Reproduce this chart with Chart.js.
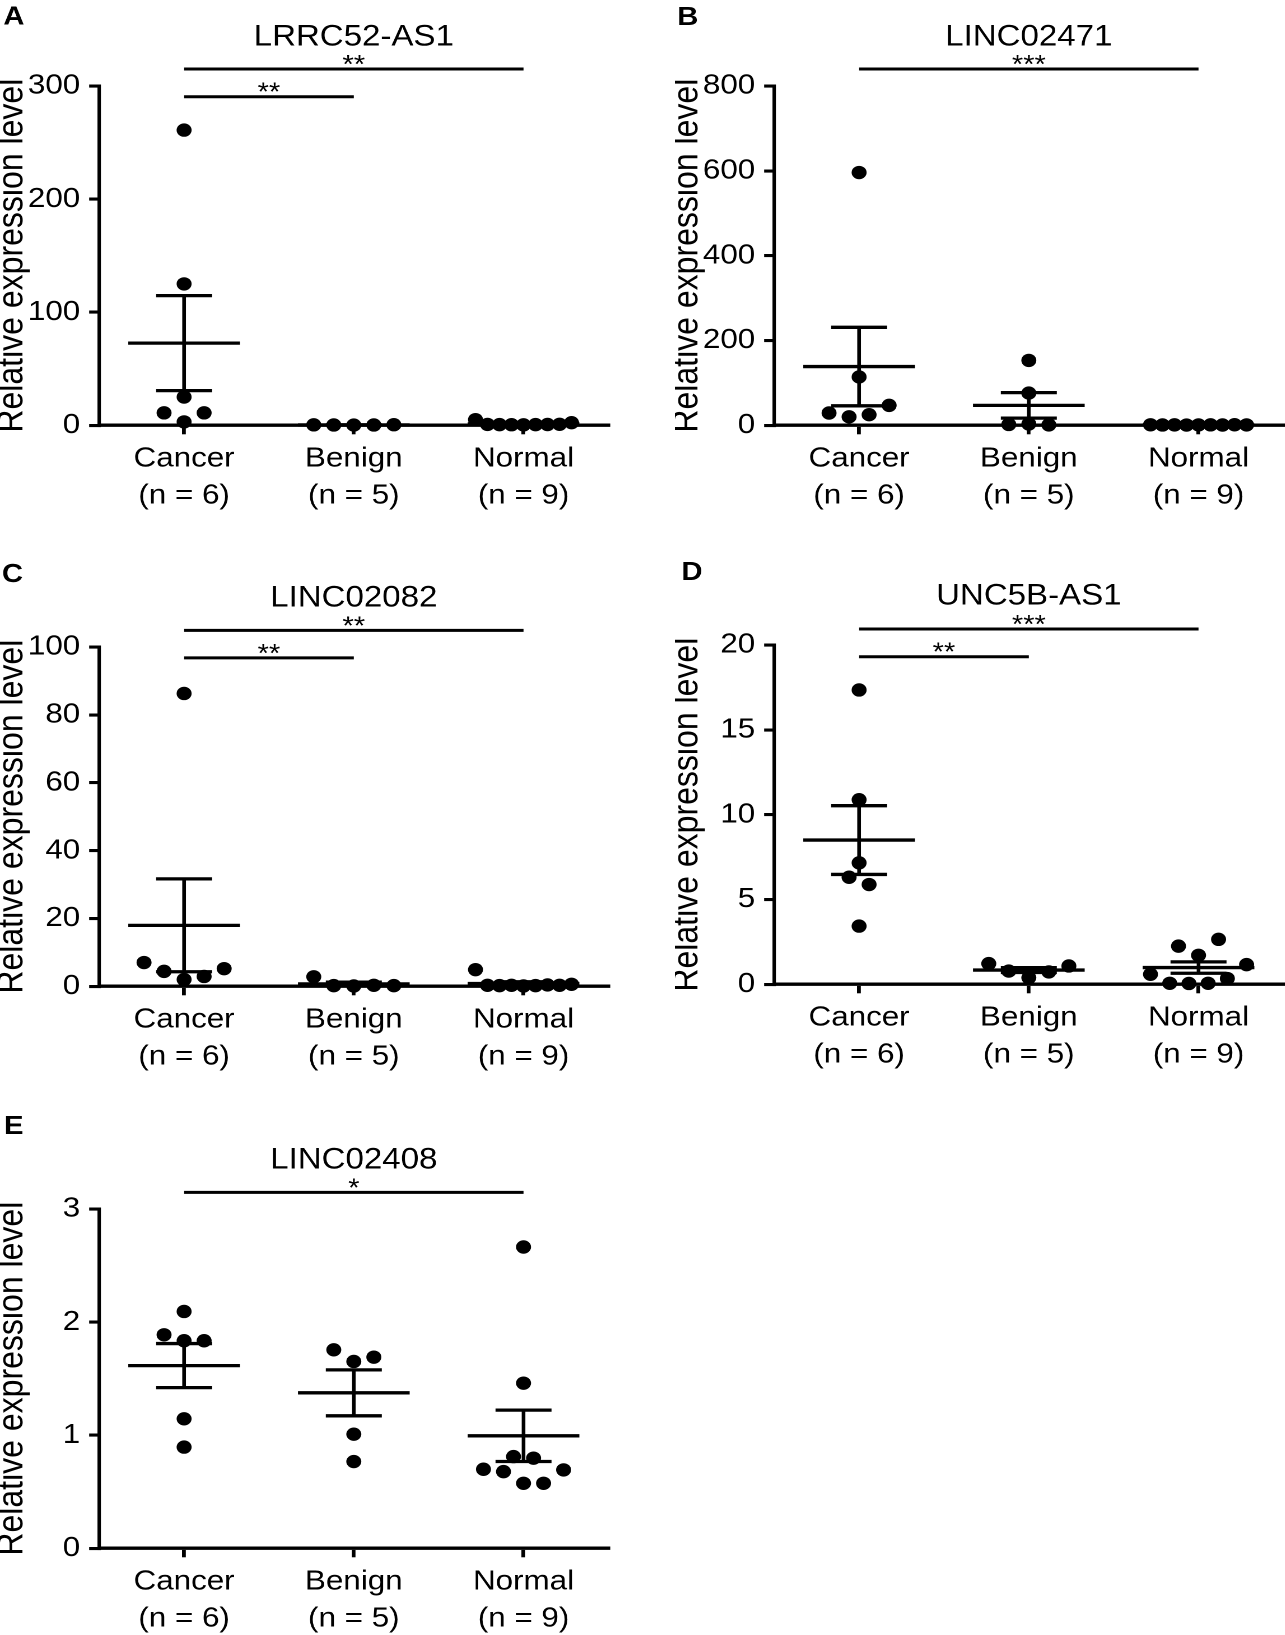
<!DOCTYPE html>
<html>
<head>
<meta charset="utf-8">
<script src="https://cdn.jsdelivr.net/npm/chart.js@4.4.1/dist/chart.umd.min.js"></script>
<style>
html,body{margin:0;padding:0;background:#fff;}
body{width:1285px;height:1635px;overflow:hidden;position:relative;}
.panel{position:absolute;transform:scaleX(1.12);transform-origin:0 0;}
canvas{display:block;}
</style>
</head>
<body>
<div class="panel" style="left:0px;top:0px"><canvas id="cA" width="554" height="540"></canvas></div>
<div class="panel" style="left:674.5px;top:0px"><canvas id="cB" width="554" height="540"></canvas></div>
<div class="panel" style="left:0px;top:560.5px"><canvas id="cC" width="554" height="540"></canvas></div>
<div class="panel" style="left:674.5px;top:559px"><canvas id="cD" width="554" height="540"></canvas></div>
<div class="panel" style="left:0px;top:1109.3px"><canvas id="cE" width="554" height="540"></canvas></div>
<script>
// ---------------- data ----------------
const categories = ['Cancer', 'Benign', 'Normal'];

// A: LRRC52-AS1
const lrrc52Cancer = [261, 125, 25, 11, 3, 11];
const lrrc52Benign = [0.4, 0.3, 0.2, 0.3, 0.5];
const lrrc52Normal = [5, 0.8, 0.6, 0.5, 0.4, 0.6, 0.7, 0.9, 2.3];
const lrrc52Ticks = [0, 100, 200, 300];

// B: LINC02471
const linc02471Cancer = [596, 114, 29, 20, 25, 47];
const linc02471Benign = [153, 76, 2, 3, 1];
const linc02471Normal = [1.2, 0.8, 1.0, 0.6, 0.9, 1.1, 0.7, 1.3, 0.9];
const linc02471Ticks = [0, 200, 400, 600, 800];

// C: LINC02082
const linc02082Cancer = [86.3, 7, 4.4, 2, 2.9, 5.2];
const linc02082Benign = [2.8, 0.2, 0.1, 0.3, 0.2];
const linc02082Normal = [4.9, 0.3, 0.2, 0.3, 0.1, 0.2, 0.4, 0.3, 0.6];
const linc02082Ticks = [0, 20, 40, 60, 80, 100];

// D: UNC5B-AS1
const unc5bCancer = [17.35, 10.88, 7.16, 6.31, 5.88, 3.43];
const unc5bBenign = [1.22, 0.78, 0.39, 0.73, 1.08];
const unc5bNormal = [2.25, 1.71, 2.65, 0.59, 0.06, 0.05, 0.06, 0.34, 1.16];
const unc5bTicks = [0, 5, 10, 15, 20];

// E: LINC02408
const linc02408Cancer = [2.094, 1.888, 1.835, 1.835, 1.145, 0.895];
const linc02408Benign = [1.755, 1.652, 1.69, 1.009, 0.767];
const linc02408Normal = [2.664, 1.46, 0.811, 0.797, 0.699, 0.678, 0.575, 0.575, 0.693];
const linc02408Ticks = [0, 1, 2, 3];

// significance brackets (group indices, bracket level in axis units, label)
const lrrc52Sig = [{from: 0, to: 2, at: 315, label: '**'}, {from: 0, to: 1, at: 290.5, label: '**'}];
const linc02471Sig = [{from: 0, to: 2, at: 840, label: '***'}];
const linc02082Sig = [{from: 0, to: 2, at: 104.9, label: '**'}, {from: 0, to: 1, at: 96.8, label: '**'}];
const unc5bSig = [{from: 0, to: 2, at: 20.94, label: '***'}, {from: 0, to: 1, at: 19.31, label: '**'}];
const linc02408Sig = [{from: 0, to: 2, at: 3.147, label: '*'}];

// ---------------- drawing ----------------
const FONT = '"Liberation Sans", Arial, Helvetica, sans-serif';
const CANVAS_H = 540, X_AXIS_H = 100;
const PLOT_H = 339.3;
const STEP = 0.118, MAXHALF = 0.283, ROW_SPAN = 20.2;
const MEAN_HALF = 0.329, CAP_HALF = 0.165;

function swarm(values, yMax) {
  const ppu = PLOT_H / yMax;
  const idx = values.map((v, i) => i).sort((a, b) => values[a] - values[b]);
  const off = new Array(values.length).fill(0);
  let i = 0;
  while (i < idx.length) {
    const start = values[idx[i]];
    let j = i;
    while (j + 1 < idx.length && (values[idx[j + 1]] - start) * ppu <= ROW_SPAN) j++;
    const row = idx.slice(i, j + 1).sort((a, b) => a - b);
    const n = row.length;
    const s = n > 1 ? Math.min(STEP, 2 * MAXHALF / (n - 1)) : 0;
    row.forEach((k, r) => { off[k] = (r - (n - 1) / 2) * s; });
    i = j + 1;
  }
  return off;
}

function meanSem(v) {
  const n = v.length;
  const m = v.reduce((a, b) => a + b, 0) / n;
  const sd = Math.sqrt(v.reduce((a, b) => a + (b - m) * (b - m), 0) / (n - 1));
  return {m, sem: sd / Math.sqrt(n)};
}

function seg(ctx, x1, y1, x2, y2) {
  ctx.beginPath(); ctx.moveTo(x1, y1); ctx.lineTo(x2, y2); ctx.stroke();
}

function decorPlugin(cfg) {
  return {
    id: 'decor',
    afterDatasetsDraw(chart) {
      const {ctx, chartArea} = chart;
      const x = chart.scales.x, y = chart.scales.y;
      ctx.save();
      ctx.strokeStyle = '#000';
      ctx.fillStyle = '#000';
      ctx.lineCap = 'butt';
      // mean +/- SEM
      ctx.lineWidth = 3.3;
      cfg.groups.forEach((vals, g) => {
        const {m, sem} = meanSem(vals);
        const c = g + 1;
        const cx = x.getPixelForValue(c);
        const ym = y.getPixelForValue(m);
        const yt = y.getPixelForValue(m + sem);
        const yb = y.getPixelForValue(m - sem);
        seg(ctx, x.getPixelForValue(c - MEAN_HALF), ym, x.getPixelForValue(c + MEAN_HALF), ym);
        seg(ctx, cx, yt, cx, yb);
        seg(ctx, x.getPixelForValue(c - CAP_HALF), yt, x.getPixelForValue(c + CAP_HALF), yt);
        seg(ctx, x.getPixelForValue(c - CAP_HALF), yb, x.getPixelForValue(c + CAP_HALF), yb);
      });
      // significance bars
      ctx.lineWidth = 3;
      ctx.font = '26px ' + FONT;
      ctx.textAlign = 'center';
      ctx.textBaseline = 'alphabetic';
      cfg.sig.forEach(s => {
        const yy = y.getPixelForValue(s.at);
        const x1 = x.getPixelForValue(s.from + 1);
        const x2 = x.getPixelForValue(s.to + 1);
        seg(ctx, x1, yy, x2, yy);
        const mt = ctx.measureText(s.label);
        const bottom = yy - 4;
        ctx.fillText(s.label, (x1 + x2) / 2, bottom - mt.actualBoundingBoxDescent);
      });
      // title
      ctx.font = '29.5px ' + FONT;
      ctx.textAlign = 'center';
      ctx.fillText(cfg.title, (chartArea.left + chartArea.right) / 2, chartArea.top - 40.3);
      // panel letter
      ctx.font = 'bold 26px ' + FONT;
      ctx.textAlign = 'left';
      ctx.fillText(cfg.letter, cfg.letterX, cfg.letterY);
      ctx.restore();
    }
  };
}

function makeChart(id, cfg) {
  const yMax = cfg.ticks[cfg.ticks.length - 1];
  const datasets = cfg.groups.map((vals, g) => {
    const off = swarm(vals, yMax);
    return {
      label: categories[g],
      data: vals.map((v, i) => ({x: g + 1 + off[i], y: v})),
      backgroundColor: '#000',
      borderColor: '#000',
      pointBorderWidth: 0,
      pointRadius: 6.7,
      pointHoverRadius: 6.7,
      clip: false,
      showLine: false
    };
  });
  const padTop = cfg.padTop;
  return new Chart(document.getElementById(id), {
    type: 'scatter',
    data: {datasets},
    options: {
      responsive: false,
      animation: false,
      devicePixelRatio: 2,
      events: [],
      layout: {padding: {left: 0, right: 10.8, top: padTop, bottom: CANVAS_H - padTop - PLOT_H - X_AXIS_H}},
      plugins: {legend: {display: false}, tooltip: {enabled: false}, title: {display: false}},
      scales: {
        x: {
          type: 'linear', min: 0.5, max: 3.5, bounds: 'data',
          afterBuildTicks: s => { s.ticks = [1, 2, 3].map(v => ({value: v})); },
          afterFit: s => { s.height = X_AXIS_H; },
          grid: {display: true, drawOnChartArea: false, drawTicks: true, tickLength: 9, lineWidth: 3.4, color: '#000'},
          border: {display: true, width: 3.4, color: '#000'},
          ticks: {
            callback: (v, i) => [categories[i], '(n = ' + cfg.groups[i].length + ')'],
            font: {family: FONT, size: 28, lineHeight: 1.32},
            color: '#000', padding: 5.8, maxRotation: 0, autoSkip: false
          }
        },
        y: {
          min: 0, max: yMax,
          afterBuildTicks: s => { s.ticks = cfg.ticks.map(v => ({value: v})); },
          afterFit: s => { s.width = 88.6; },
          grid: {display: true, drawOnChartArea: false, drawTicks: true, tickLength: 9, lineWidth: 3.1, color: '#000'},
          border: {display: true, width: 3.1, color: '#000'},
          ticks: {font: {family: FONT, size: 28}, color: '#000', padding: 8},
          title: {display: true, text: 'Relative expression level', color: '#000',
                  font: {family: FONT, size: 32, lineHeight: 0.70}, padding: 0}
        }
      }
    },
    plugins: [decorPlugin(cfg)]
  });
}

makeChart('cA', {groups: [lrrc52Cancer, lrrc52Benign, lrrc52Normal], ticks: lrrc52Ticks, sig: lrrc52Sig,
  title: 'LRRC52-AS1', letter: 'A', letterX: 3, letterY: 24.5, padTop: 86});
makeChart('cB', {groups: [linc02471Cancer, linc02471Benign, linc02471Normal], ticks: linc02471Ticks, sig: linc02471Sig,
  title: 'LINC02471', letter: 'B', letterX: 2, letterY: 25, padTop: 86});
makeChart('cC', {groups: [linc02082Cancer, linc02082Benign, linc02082Normal], ticks: linc02082Ticks, sig: linc02082Sig,
  title: 'LINC02082', letter: 'C', letterX: 1.8, letterY: 21, padTop: 86});
makeChart('cD', {groups: [unc5bCancer, unc5bBenign, unc5bNormal], ticks: unc5bTicks, sig: unc5bSig,
  title: 'UNC5B-AS1', letter: 'D', letterX: 5.8, letterY: 21, padTop: 86});
makeChart('cE', {groups: [linc02408Cancer, linc02408Benign, linc02408Normal], ticks: linc02408Ticks, sig: linc02408Sig,
  title: 'LINC02408', letter: 'E', letterX: 3.6, letterY: 25, padTop: 100});
</script>
</body>
</html>
